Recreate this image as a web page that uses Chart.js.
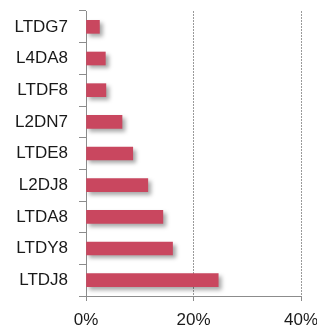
<!DOCTYPE html>
<html>
<head>
<meta charset="utf-8">
<script src="https://cdn.jsdelivr.net/npm/chart.js@4/dist/chart.umd.min.js"></script>
<style>
  html, body { margin: 0; padding: 0; background: #fff; }
  #wrap { width: 317px; height: 326px; }
</style>
</head>
<body>
<div id="wrap"><canvas id="barChart"></canvas></div>
<script>
const categories = ['LTDG7', 'L4DA8', 'LTDF8', 'L2DN7', 'LTDE8', 'L2DJ8', 'LTDA8', 'LTDY8', 'LTDJ8'];
const shares = [2.5, 3.6, 3.7, 6.7, 8.7, 11.5, 14.3, 16.1, 24.6];
const xTicks = [0, 20, 40];

// soft drop shadow under the bars
const barShadow = {
    id: 'barShadow',
    beforeDatasetDraw(chart) {
        const ctx = chart.ctx;
        ctx.save();
        ctx.shadowColor = 'rgba(0,0,0,0.35)';
        ctx.shadowBlur = 4;
        ctx.shadowOffsetX = 3;
        ctx.shadowOffsetY = 3;
    },
    afterDatasetDraw(chart) {
        chart.ctx.restore();
    }
};

const ctx = document.getElementById('barChart').getContext('2d');
const chart = new Chart(ctx, {
    type: 'bar',
    data: {
        labels: categories,
        datasets: [{
            data: shares,
            backgroundColor: '#C9475F',
            borderWidth: 0,
            barThickness: 13
        }]
    },
    plugins: [barShadow],
    options: {
        indexAxis: 'y',
        responsive: true,
        maintainAspectRatio: false,
        animation: false,
        layout: {
            padding: { top: 11, right: 16, left: 0, bottom: 0 }
        },
        plugins: {
            legend: { display: false },
            tooltip: { enabled: false }
        },
        scales: {
            x: {
                min: 0,
                max: 40,
                afterBuildTicks: function(scale) {
                    scale.ticks = xTicks.map(v => ({ value: v }));
                },
                afterFit: function(scale) {
                    scale.height = 30;
                    scale.paddingLeft = 0;
                    scale.paddingRight = 0;
                },
                grid: {
                    drawOnChartArea: true,
                    color: c => (c.tick && c.tick.value === 0) ? 'rgba(0,0,0,0)' : '#9a9a9a',
                    tickColor: '#8c8c8c',
                    tickLength: 5,
                    tickBorderDash: [],
                    lineWidth: 1
                },
                border: { color: '#8c8c8c', dash: [2, 1] },
                ticks: {
                    color: '#1a1a1a',
                    font: { family: 'Liberation Sans, Arial, sans-serif', size: 17 },
                    padding: 9,
                    callback: v => v + '%'
                }
            },
            y: {
                afterFit: function(scale) {
                    scale.width = 86;
                    scale.paddingTop = 0;
                    scale.paddingBottom = 0;
                },
                grid: {
                    drawOnChartArea: false,
                    offset: true,
                    tickLength: 7,
                    tickColor: '#8c8c8c'
                },
                border: { color: '#8c8c8c', width: 1 },
                ticks: {
                    color: '#1a1a1a',
                    font: { family: 'Liberation Sans, Arial, sans-serif', size: 17 },
                    padding: 11
                }
            }
        }
    }
});
</script>
</body>
</html>
